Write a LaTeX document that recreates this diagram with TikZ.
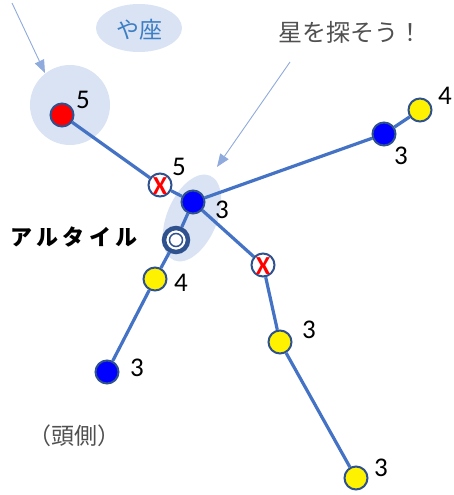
\documentclass[tikz,border=0pt]{standalone}
\usepackage{fontspec}
\setmainfont{Carlito}
\newfontfamily\cjk{Noto Sans CJK JP}
\usetikzlibrary{arrows.meta}
\definecolor{edgeblue}{HTML}{4472C4}
\definecolor{rim}{HTML}{2F528F}
\definecolor{halo}{HTML}{DAE3F3}
\definecolor{pointer}{HTML}{8FAADC}
\definecolor{yaza}{HTML}{3C7FC4}
\definecolor{graytxt}{HTML}{505050}
\pgfdeclarelayer{bg}
\pgfdeclarelayer{edges}
\pgfsetlayers{bg,edges,main}
\tikzset{
  star/.style={circle, draw=rim, line width=2pt, minimum size=23pt, inner sep=0pt},
  redstar/.style={star, fill=red},
  bluestar/.style={star, fill=blue},
  yellowstar/.style={star, fill=yellow},
  lost/.style={star, fill=white, text=red, font=\fontsize{26}{26}\selectfont\bfseries},
  num/.style={inner sep=0pt, font=\fontsize{27}{27}\selectfont},
  link/.style={draw=edgeblue, line width=3.2pt},
  pointerline/.style={draw=pointer, line width=0.9pt, -{Triangle[length=13pt,width=10pt]}},
}
\begin{document}
\begin{tikzpicture}[x=1pt,y=-1pt]
\useasboundingbox (0,0) rectangle (453,495);
% halos
\begin{pgfonlayer}{bg}
\fill[halo] (70,105) circle[radius=40];
\fill[halo] (139,28) circle[x radius=43, y radius=24];
\fill[halo, rotate around={-23:(192,218)}] (192,218) circle[x radius=25, y radius=46];
\end{pgfonlayer}
% stars
\node[redstar] (red) at (62,115) {};
\node[lost] (x1) at (160,185) {};
\node[text=red, inner sep=0pt, font=\fontsize{26}{26}\selectfont\bfseries] (x1mark) at (160,186) {X};
\node[bluestar] (hub) at (193,202) {};
\node[bluestar] (rb) at (384,134) {};
\node[yellowstar] (ry) at (420,110) {};
\node[star, fill=white, line width=4.5pt, minimum size=24pt] (altair) at (176,240) {};
\draw[rim, line width=1.5pt] (altair.center) circle[radius=6.5];
\node[yellowstar] (y4) at (155,279) {};
\node[bluestar] (lb) at (107,372) {};
\node[lost] (x2) at (263,265) {};
\node[text=red, inner sep=0pt, font=\fontsize{26}{26}\selectfont\bfseries] (x2mark) at (263,266) {X};
\node[yellowstar] (y3) at (280,342) {};
\node[yellowstar] (yb) at (356,478) {};
% edges
\begin{pgfonlayer}{edges}
\path[link] (red) -- (x1);
\path[link] (x1) -- (hub);
\path[link] (hub) -- (rb);
\path[link] (rb) -- (ry);
\path[link] (hub) -- (altair);
\path[link] (altair) -- (y4);
\path[link] (y4) -- (lb);
\path[link] (hub) -- (x2);
\path[link] (x2) -- (y3);
\path[link] (y3) -- (yb);
\end{pgfonlayer}
% numbers
\node[num] (n1) at (83,100) {5};
\node[num] (n2) at (179,167) {5};
\node[num] (n3) at (222,210) {3};
\node[num] (n4) at (401,156) {3};
\node[num] (n5) at (445,96) {4};
\node[num] (n6) at (181,283) {4};
\node[num] (n7) at (137,368) {3};
\node[num] (n8) at (309,330) {3};
\node[num] (n9) at (381,468) {3};
% texts
\node[inner sep=0pt, text=yaza, font=\cjk\fontsize{23}{23}\selectfont] (yazalabel) at (139,30) {や座};
\node[inner sep=0pt, text=graytxt, font=\cjk\fontsize{24}{24}\selectfont] (title) at (350,32) {星を探そう！};
\node[inner sep=0pt, font=\cjk\bfseries\fontsize{22}{22}\selectfont\addfontfeature{LetterSpace=20}] (altairlabel) at (74,237) {アルタイル};
\node[inner sep=0pt, text=graytxt, font=\cjk\fontsize{23}{23}\selectfont] (head) at (74,436) {（頭側）};
% pointers
\coordinate (p1s) at (12,3);
\coordinate (p1e) at (45,73);
\coordinate (p2s) at (290,62);
\coordinate (p2e) at (217,167);
\draw[pointerline] (p1s) -- (p1e);
\draw[pointerline] (p2s) -- (p2e);
\end{tikzpicture}
\end{document}
